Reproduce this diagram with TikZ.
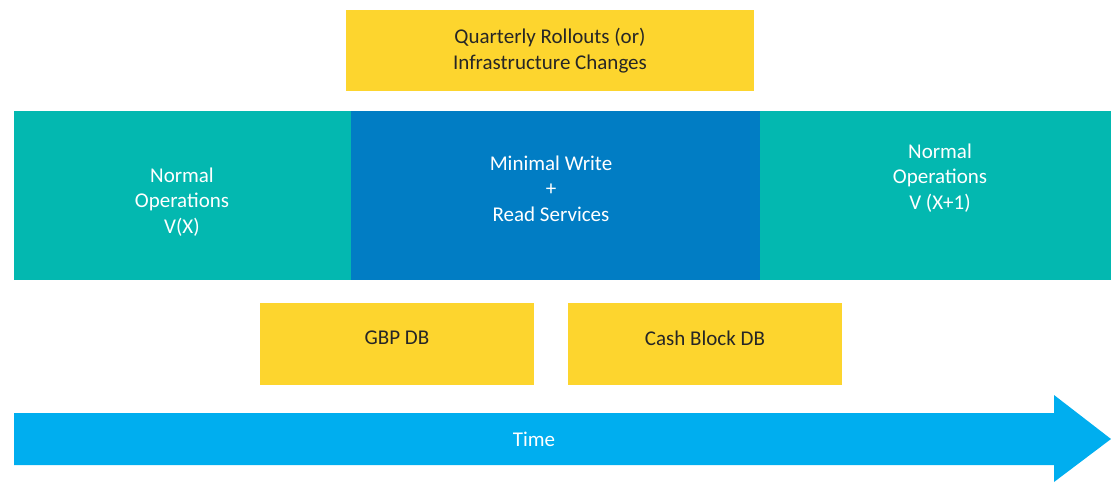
\documentclass[tikz,border=0pt]{standalone}
\usepackage{fontspec}
\setmainfont{Carlito}
\definecolor{amber}{HTML}{FDD52E}
\definecolor{tealop}{HTML}{03B8B0}
\definecolor{bluemid}{HTML}{017DC4}
\definecolor{timeblue}{HTML}{00AEEF}
\definecolor{inkdark}{HTML}{262626}
\begin{document}
\begin{tikzpicture}[x=1pt,y=-1pt,
  lbl/.style={font=\fontsize{21}{25.5}\selectfont,align=center},
  yellowbox/.style={fill=amber,text=inkdark,lbl},
  phase/.style={text=white,lbl}]
\useasboundingbox (0,0) rectangle (1111,483);
% top banner
\fill[amber] (346,10) rectangle (754,91);
\node[yellowbox] (rollout) at (550,50.5) {Quarterly Rollouts (or)\\Infrastructure Changes};
% phase bands
\fill[tealop] (14,111) rectangle (351,280);
\fill[bluemid] (351,111) rectangle (760,280);
\fill[tealop] (760,111) rectangle (1111,280);
\node[phase] (opsx) at (182,202) {Normal\\Operations\\V(X)};
\node[phase] (minimal) at (551,188.5) {Minimal Write\\+\\Read Services};
\node[phase] (opsx1) at (940,178) {Normal\\Operations\\V (X+1)};
% databases
\fill[amber] (260,303) rectangle (534,385);
\fill[amber] (568,303) rectangle (842,385);
\node[yellowbox] (gbp) at (397,338) {GBP DB};
\node[yellowbox] (cash) at (705,338) {Cash Block DB};
% time arrow
\fill[timeblue] (14,413) -- (1054,413) -- (1054,395) -- (1111,439) -- (1054,482) -- (1054,465) -- (14,465) -- cycle;
\node[phase] (time) at (534,439) {Time};
\end{tikzpicture}
\end{document}
